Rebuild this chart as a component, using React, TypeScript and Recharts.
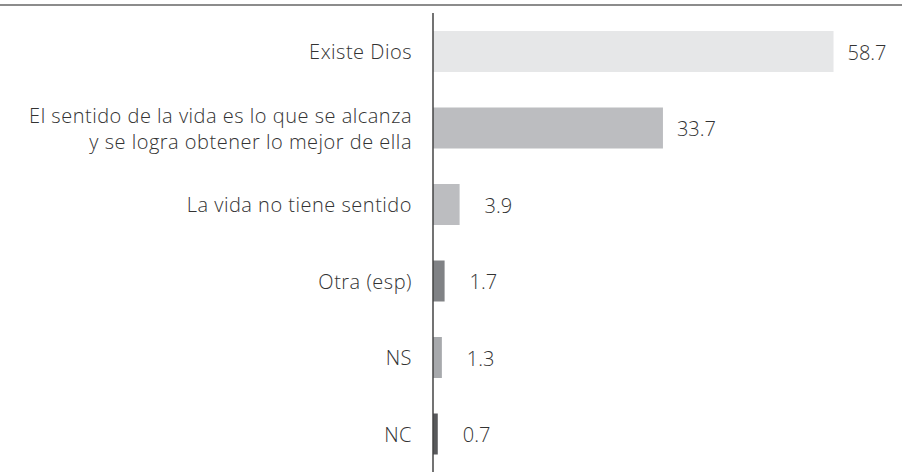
import React from "react";
import { BarChart, Bar, XAxis, YAxis, Cell, LabelList } from "recharts";

const categories = [
  "Existe Dios",
  "El sentido de la vida es lo que se alcanza\ny se logra obtener lo mejor de ella",
  "La vida no tiene sentido",
  "Otra (esp)",
  "NS",
  "NC",
];
const values = [58.7, 33.7, 3.9, 1.7, 1.3, 0.7];
const colors = ["#e6e7e8", "#bcbdc0", "#bcbdc0", "#808285", "#a7a9ac", "#58595b"];

const data = categories.map((c, i) => ({ name: c, value: values[i] }));

const FONT = "'Open Sans', sans-serif";
const FS = 20;
const VFS = 20;

const Tick = (props: any) => {
  const { x, y, payload } = props;
  const lines = String(payload.value).split("\n");
  const lh = 26;
  return (
    <text
      x={x}
      y={y}
      textAnchor="end"
      fill="#333333"
      fontSize={FS}
      fontFamily={FONT}
      fontWeight={300}
      letterSpacing={0.5}
    >
      {lines.map((l, i) => (
        <tspan key={i} x={x} dy={i === 0 ? -((lines.length - 1) / 2) * lh + 8 : lh}>
          {l}
        </tspan>
      ))}
    </text>
  );
};

const ValueLabel = (props: any) => {
  const { x, y, width, height, value } = props;
  const off = width < 40 ? 25 : 14;
  return (
    <text
      x={x + width + off}
      y={y + height / 2 + 8}
      fill="#333333"
      fontSize={VFS}
      fontFamily={FONT}
      fontWeight={300}
    >
      {value}
    </text>
  );
};

export default function App() {
  return (
    <div style={{ position: "absolute", left: 0, top: 0, width: 902, height: 472, background: "#fff" }}>
      <div style={{ position: "absolute", left: 0, top: 4, width: 902, height: 2, background: "#8c8c8c" }} />
      <BarChart
        width={902}
        height={472}
        data={data}
        layout="vertical"
        margin={{ top: 13, right: 59.6, bottom: 0, left: 0 }}
        barCategoryGap={0}
      >
        <XAxis type="number" domain={[0, 60]} hide />
        <YAxis
          type="category"
          dataKey="name"
          width={433}
          axisLine={{ stroke: "#444", strokeWidth: 1.5 }}
          tickLine={false}
          tickSize={0}
          tickMargin={21}
          tick={<Tick />}
          interval={0}
        />
        <Bar dataKey="value" barSize={41} isAnimationActive={false}>
          {data.map((d, i) => (
            <Cell key={i} fill={colors[i]} />
          ))}
          <LabelList dataKey="value" content={<ValueLabel />} />
        </Bar>
      </BarChart>
    </div>
  );
}
